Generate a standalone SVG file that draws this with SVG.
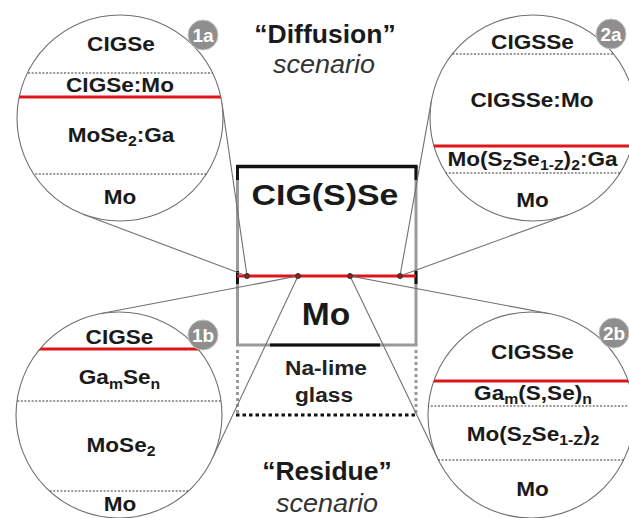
<svg xmlns="http://www.w3.org/2000/svg" width="629" height="518" viewBox="0 0 629 518">
<style>
.lbl{font-family:"Liberation Sans",Arial,sans-serif;font-weight:bold;font-size:20px;fill:#1a1a1a;text-anchor:middle}
.s{font-size:14px}
.ring{fill:#fff;stroke:#6e6e6e;stroke-width:1.1}
.dot{stroke:#333;stroke-width:1.2;stroke-dasharray:2 1.6;fill:none}
.red{stroke:#e0141b;stroke-width:3;fill:none}
.conn{stroke:#707070;stroke-width:1.1;fill:none}
.badge circle{fill:#8e8e8e;stroke:#c4c4c4;stroke-width:1}
.badge text{font-family:"Liberation Sans",Arial,sans-serif;font-weight:bold;font-size:19px;fill:#fff;text-anchor:middle}
.it{font-family:"Liberation Sans",Arial,sans-serif;font-style:italic;font-size:25px;fill:#333;text-anchor:middle}
.wall{stroke:#9a9a9a;stroke-width:3;fill:none}
.blk{stroke:#111;stroke-width:3;fill:none}
.pt{fill:#9b1b1b;stroke:#333;stroke-width:1}
</style>
<defs>
<clipPath id="c1a"><circle cx="120" cy="118" r="103"/></clipPath>
<clipPath id="c2a"><circle cx="533" cy="118" r="103"/></clipPath>
<clipPath id="c1b"><circle cx="119" cy="415" r="103"/></clipPath>
<clipPath id="c2b"><circle cx="531" cy="415" r="103"/></clipPath>
</defs>
<rect width="629" height="518" fill="#fff"/>

<g id="titles">
<text class="lbl" style="font-size:25px" transform="translate(325 43) scale(1.06 1)">“Diffusion”</text>
<text class="it" transform="translate(324 73) scale(1.08 1)">scenario</text>
<text class="lbl" style="font-size:25px" transform="translate(327 480) scale(1.06 1)">“Residue”</text>
<text class="it" transform="translate(327 512) scale(1.08 1)">scenario</text>
</g>

<g id="device">
<line class="wall" x1="237.5" y1="166" x2="237.5" y2="345"/>
<line class="wall" x1="416" y1="166" x2="416" y2="345"/>
<line class="blk" x1="237.5" y1="166" x2="237.5" y2="180"/>
<line class="blk" x1="416" y1="166" x2="416" y2="180"/>
<line class="blk" x1="237.5" y1="271" x2="237.5" y2="284"/>
<line class="blk" x1="416" y1="271" x2="416" y2="284"/>
<line class="blk" x1="236" y1="166.5" x2="417.5" y2="166.5" style="stroke-width:3.5"/>
<line class="wall" x1="236" y1="345" x2="417.5" y2="345"/>
<line class="blk" x1="270" y1="345" x2="380" y2="345"/>
<line class="wall" x1="237.5" y1="350" x2="237.5" y2="413" style="stroke-dasharray:3 3"/>
<line class="wall" x1="416" y1="350" x2="416" y2="413" style="stroke-dasharray:3 3"/>
<line class="blk" x1="236" y1="415" x2="417" y2="415" style="stroke-dasharray:3.5 3"/>
<line class="red" x1="237" y1="276" x2="416" y2="276"/>
<text class="lbl" style="font-size:30px" transform="translate(325 205) scale(1.13 1)">CIG(S)Se</text>
<text class="lbl" style="font-size:32px" transform="translate(326 325) scale(1.05 1)">Mo</text>
<text class="lbl" style="font-size:21px;fill:#222" transform="translate(326 375) scale(1.08 1)">Na-lime</text>
<text class="lbl" style="font-size:21px;fill:#222" transform="translate(324 402) scale(1.08 1)">glass</text>
</g>

<g id="connectors">
<polyline class="conn" points="83.6,214.4 247,276 221.9,103.2"/>
<polyline class="conn" points="431.6,99.8 400,276 568.2,214.8"/>
<polyline class="conn" points="99.7,313.8 298,276 212.2,458.8"/>
<polyline class="conn" points="550.1,313.8 350,276 438.2,459.6"/>
<circle class="pt" cx="247" cy="276" r="2.5"/>
<circle class="pt" cx="298" cy="276" r="2.5"/>
<circle class="pt" cx="350" cy="276" r="2.5"/>
<circle class="pt" cx="400" cy="276" r="2.5"/>
</g>

<g id="zoom-1a">
<circle class="ring" cx="120" cy="118" r="103"/>
<g clip-path="url(#c1a)">
<line class="dot" x1="10" y1="73" x2="230" y2="73"/>
<line class="red" x1="10" y1="97" x2="230" y2="97"/>
<line class="dot" x1="10" y1="174" x2="230" y2="174"/>
</g>
<text class="lbl" transform="translate(121 51) scale(1.13 1)">CIGSe</text>
<text class="lbl" transform="translate(120 92) scale(1.13 1)">CIGSe:Mo</text>
<text class="lbl" transform="translate(121 142) scale(1.13 1)">MoSe<tspan class="s" dy="4">2</tspan><tspan dy="-4">:Ga</tspan></text>
<text class="lbl" transform="translate(120 204) scale(1.13 1)">Mo</text>
<g class="badge"><circle cx="203" cy="35" r="15"/><text x="203" y="42">1a</text></g>
</g>

<g id="zoom-2a">
<circle class="ring" cx="533" cy="118" r="103"/>
<g clip-path="url(#c2a)">
<line class="dot" x1="420" y1="54" x2="640" y2="54"/>
<line class="red" x1="420" y1="146" x2="640" y2="146"/>
<line class="dot" x1="420" y1="173" x2="640" y2="173"/>
</g>
<text class="lbl" transform="translate(532.5 49) scale(1.13 1)">CIGSSe</text>
<text class="lbl" transform="translate(532 107) scale(1.13 1)">CIGSSe:Mo</text>
<text class="lbl" transform="translate(532.5 166) scale(1.13 1)">Mo(S<tspan class="s" dy="4">Z</tspan><tspan dy="-4">Se</tspan><tspan class="s" dy="4">1-Z</tspan><tspan dy="-4">)</tspan><tspan class="s" dy="4">2</tspan><tspan dy="-4">:Ga</tspan></text>
<text class="lbl" transform="translate(532.5 207) scale(1.13 1)">Mo</text>
<g class="badge"><circle cx="611" cy="34" r="15"/><text x="611" y="41">2a</text></g>
</g>

<g id="zoom-1b">
<circle class="ring" cx="119" cy="415" r="103"/>
<g clip-path="url(#c1b)">
<line class="red" x1="10" y1="349" x2="230" y2="349"/>
<line class="dot" x1="10" y1="401" x2="230" y2="401"/>
<line class="dot" x1="10" y1="491" x2="230" y2="491"/>
</g>
<text class="lbl" transform="translate(119.5 344) scale(1.13 1)">CIGSe</text>
<text class="lbl" transform="translate(119.5 384) scale(1.13 1)">Ga<tspan class="s" dy="5">m</tspan><tspan dy="-5">Se</tspan><tspan class="s" dy="5">n</tspan></text>
<text class="lbl" transform="translate(121 452) scale(1.13 1)">MoSe<tspan class="s" dy="4">2</tspan></text>
<text class="lbl" transform="translate(120 511) scale(1.13 1)">Mo</text>
<g class="badge"><circle cx="203" cy="335" r="15"/><text x="203" y="342">1b</text></g>
</g>

<g id="zoom-2b">
<circle class="ring" cx="531" cy="415" r="103"/>
<g clip-path="url(#c2b)">
<line class="red" x1="420" y1="381" x2="640" y2="381"/>
<line class="dot" x1="420" y1="406" x2="640" y2="406"/>
<line class="dot" x1="420" y1="460" x2="640" y2="460"/>
</g>
<text class="lbl" transform="translate(532.5 359) scale(1.13 1)">CIGSSe</text>
<text class="lbl" transform="translate(533 400) scale(1.13 1)">Ga<tspan class="s" dy="4">m</tspan><tspan dy="-4">(S,Se)</tspan><tspan class="s" dy="4">n</tspan></text>
<text class="lbl" transform="translate(533 441) scale(1.13 1)">Mo(S<tspan class="s" dy="4">Z</tspan><tspan dy="-4">Se</tspan><tspan class="s" dy="4">1-Z</tspan><tspan dy="-4">)</tspan><tspan class="s" dy="4">2</tspan></text>
<text class="lbl" transform="translate(532.5 496) scale(1.13 1)">Mo</text>
<g class="badge"><circle cx="614" cy="333" r="15"/><text x="614" y="340">2b</text></g>
</g>
</svg>
